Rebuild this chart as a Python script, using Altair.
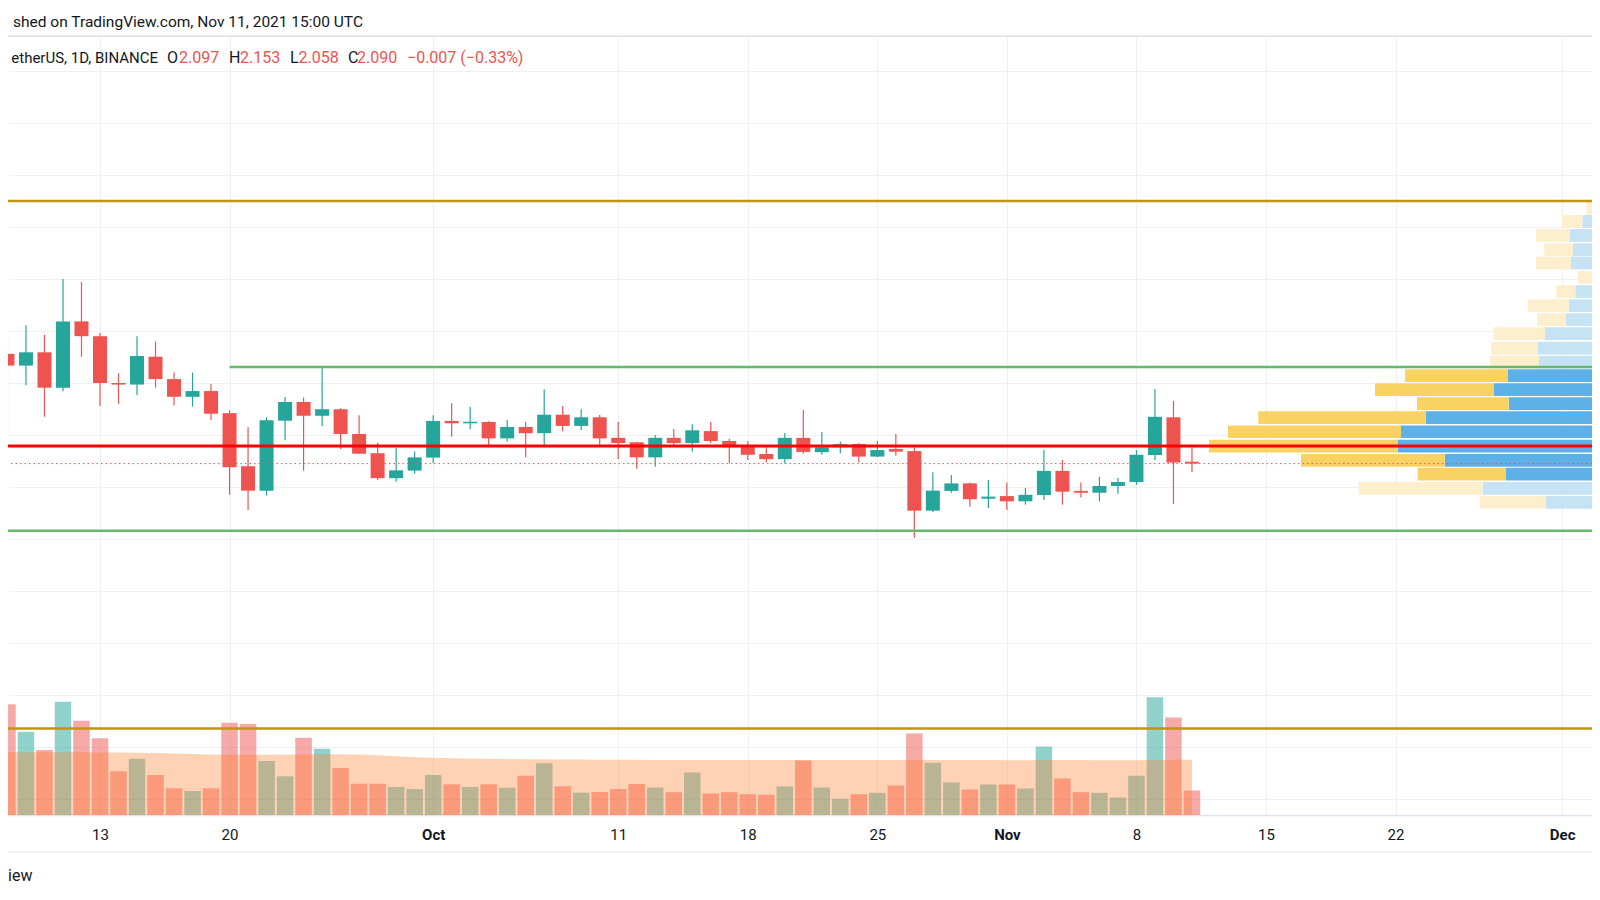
import altair as alt
import numpy as np
import pandas as pd

# ---------------- data ----------------
dates = pd.date_range("2021-09-08", "2021-11-11", freq="D")

opens = [2.512, 2.467, 2.518, 2.382, 2.637, 2.580, 2.400, 2.394, 2.501, 2.415, 2.347, 2.369,
         2.284, 2.080, 1.986, 2.255, 2.327, 2.274, 2.299, 2.204, 2.130, 2.034, 2.063,
         2.113, 2.254, 2.245, 2.250, 2.187, 2.231, 2.207, 2.278, 2.235, 2.268, 2.189, 2.172,
         2.114, 2.189, 2.169, 2.215, 2.177, 2.160, 2.127, 2.107, 2.189, 2.134, 2.153, 2.165,
         2.117, 2.146, 2.138, 1.909, 1.985, 2.014, 1.955,
         1.965, 1.945, 1.969, 2.062, 1.985, 1.978, 2.004, 2.019, 2.123, 2.268, 2.097]
highs = [2.565, 2.622, 2.585, 2.800, 2.789, 2.593, 2.437, 2.580, 2.560, 2.441, 2.440, 2.396,
         2.295, 2.230, 2.268, 2.346, 2.344, 2.459, 2.303, 2.276, 2.170, 2.150, 2.137,
         2.276, 2.322, 2.309, 2.253, 2.258, 2.250, 2.376, 2.312, 2.299, 2.277, 2.250, 2.174,
         2.200, 2.223, 2.241, 2.250, 2.186, 2.177, 2.155, 2.208, 2.296, 2.212, 2.174, 2.169,
         2.177, 2.204, 2.153, 2.057, 2.046, 2.017, 2.027,
         2.017, 1.996, 2.142, 2.104, 2.017, 2.039, 2.035, 2.142, 2.377, 2.331, 2.153]
lows = [2.203, 2.391, 2.270, 2.368, 2.501, 2.312, 2.320, 2.354, 2.382, 2.313, 2.309, 2.258,
        1.970, 1.912, 1.967, 2.180, 2.063, 2.235, 2.146, 2.128, 2.027, 2.020, 2.051,
        2.091, 2.193, 2.222, 2.153, 2.174, 2.113, 2.153, 2.213, 2.218, 2.160, 2.107, 2.070,
        2.078, 2.158, 2.136, 2.169, 2.090, 2.104, 2.094, 2.090, 2.128, 2.124, 2.130, 2.094,
        2.115, 2.120, 1.805, 1.904, 1.978, 1.924, 1.919,
        1.912, 1.932, 1.950, 1.932, 1.960, 1.944, 1.974, 2.008, 2.104, 1.934, 2.058]
closes = [2.467, 2.518, 2.382, 2.637, 2.580, 2.400, 2.394, 2.504, 2.415, 2.347, 2.369, 2.282,
          2.076, 1.986, 2.257, 2.327, 2.274, 2.299, 2.204, 2.128, 2.034, 2.064, 2.114,
          2.254, 2.245, 2.251, 2.187, 2.231, 2.207, 2.278, 2.235, 2.268, 2.187, 2.169, 2.114,
          2.189, 2.169, 2.218, 2.177, 2.153, 2.124, 2.107, 2.189, 2.135, 2.153, 2.165, 2.117,
          2.142, 2.136, 1.909, 1.986, 2.014, 1.953, 1.963,
          1.945, 1.970, 2.062, 1.982, 1.978, 2.004, 2.019, 2.124, 2.270, 2.094, 2.090]
volume_m = [11.07, 8.33, 6.50, 11.33, 9.43, 7.67, 4.37, 5.63, 4.00, 2.67, 2.40, 2.67,
            9.23, 9.10, 5.40, 3.87, 7.73, 6.63, 4.70, 3.13, 3.13, 2.80, 2.60,
            4.00, 3.07, 2.80, 3.07, 2.73, 3.93, 5.17, 2.87, 2.23, 2.30, 2.60, 3.10,
            2.75, 2.28, 4.25, 2.15, 2.28, 2.08, 2.02, 2.85, 5.45, 2.75, 1.62, 2.08,
            2.22, 2.95, 8.15, 5.22, 3.25, 2.55, 3.05,
            3.05, 2.65, 6.85, 3.65, 2.28, 2.22, 1.75, 3.92, 11.78, 9.75, 2.45]
volume_ma_m = [6.28, 6.28, 6.28, 6.28, 6.27, 6.26, 6.24, 6.23, 6.20, 6.14, 6.09, 6.05,
               6.02, 6.02, 6.03, 6.04, 6.06, 6.08, 6.08, 6.05, 5.98, 5.88, 5.78,
               5.72, 5.68, 5.64, 5.62, 5.60, 5.58, 5.57, 5.56, 5.54, 5.53, 5.52, 5.52,
               5.51, 5.51, 5.51, 5.50, 5.50, 5.50, 5.50, 5.50, 5.51, 5.50, 5.49, 5.49,
               5.49, 5.49, 5.51, 5.51, 5.50, 5.49, 5.49,
               5.48, 5.48, 5.50, 5.50, 5.49, 5.48, 5.47, 5.47, 5.50, 5.52, 5.52]

# visible-range volume profile (rows from top to bottom)
profile_top = [3.097, 3.046, 2.992, 2.937, 2.886, 2.831, 2.776, 2.722, 2.668, 2.614, 2.559, 2.505,
               2.453, 2.399, 2.345, 2.291, 2.237, 2.182, 2.127, 2.074, 2.019, 1.965, 1.912, 1.858]
profile_up = [0.60, 1.77, 3.00, 2.70, 2.90, 0.70, 2.47, 3.13, 3.43, 5.50, 6.20, 6.10,
              9.20, 10.60, 9.13, 17.43, 19.90, 20.20, 15.53, 9.40, 11.73, 5.40, 0.07, 0.00]
profile_down = [0.73, 2.03, 3.40, 2.87, 3.50, 1.50, 1.90, 4.07, 2.87, 5.17, 4.67, 4.90,
                10.30, 11.90, 9.17, 16.74, 17.30, 18.90, 14.37, 8.83, 12.40, 6.60, 0.63, 0.50]
profile_value_area = [False] * 12 + [True] * 8 + [False] * 4

level_prices = [3.1, 1.832, 1.071]
level_colors = ["#c09512", "#66b86a", "#c09512"]
resistance_price = 2.4615
resistance_start = "2021-09-20"
pivot_price = 2.158
last_close = 2.090

x_tick_dates = ["2021-09-13", "2021-09-20", "2021-10-01", "2021-10-11", "2021-10-18",
                "2021-10-25", "2021-11-01", "2021-11-08", "2021-11-15", "2021-11-22", "2021-12-01"]
price_grid = [0.8, 1.0, 1.2, 1.4, 1.6, 1.8, 2.0, 2.2, 2.4, 2.6, 2.8, 3.0, 3.2, 3.4, 3.6]

# ---------------- styling / layout ----------------
GREEN = "#26a69a"
RED = "#ef5350"
GREEN_A = "rgba(38,166,154,0.5)"
RED_A = "rgba(239,83,80,0.5)"
GRID = "#eef0f4"
TXT = "#131722"
FONT = "Roboto"

W, H = 1584, 779
DAY = 86_400_000


def ms(s):
    return int(pd.Timestamp(s).value // 1_000_000)


T13 = ms("2021-09-13")
PX_DAY = 18.508
X_LEFT = T13 + (8 - 100) / PX_DAY * DAY
X_RIGHT = T13 + (1592 - 100) / PX_DAY * DAY
Y_TOP = 2.2 + (435 - 36) / 260
Y_BOT = 2.2 - (815 - 435) / 260

xscale = alt.Scale(domain=[X_LEFT, X_RIGHT], nice=False, zero=False, padding=0)
yscale = alt.Scale(domain=[Y_BOT, Y_TOP], nice=False, zero=False, padding=0)
vscale = alt.Scale(domain=[0, H / 10], nice=False, zero=False, padding=0)
pscale = alt.Scale(domain=[0.8, (W + 8) / 10], reverse=True, nice=False, zero=False, padding=0)

df = pd.DataFrame({
    "t": [ms(d) for d in dates],
    "open": opens, "high": highs, "low": lows, "close": closes,
    "vol": volume_m, "ma": volume_ma_m,
})
up = df["close"] >= df["open"]
df["ccolor"] = np.where(up, GREEN, RED)
df["vcolor"] = np.where(up, GREEN_A, RED_A)

ROW_H = 0.049
prof_rows = []
for top, u, d, va in zip(profile_top, profile_up, profile_down, profile_value_area):
    prof_rows.append({"top": top, "bot": top - ROW_H, "x0": 0.0, "x1": u,
                      "c": "#5eb0e8" if va else "#c6e2f5"})
    prof_rows.append({"top": top, "bot": top - ROW_H, "x0": u, "x1": u + d,
                      "c": "#fad264" if va else "#fdefcd"})
prof = pd.DataFrame(prof_rows)

xaxis = alt.Axis(
    values=[ms(d) for d in x_tick_dates],
    labelExpr="utcdate(datum.value) == 1 ? utcFormat(datum.value, '%b') : utcFormat(datum.value, '%-d')",
    labelFontWeight={"condition": {"test": "utcdate(datum.value) == 1", "value": "bold"}, "value": "normal"},
    grid=True, gridColor=GRID, gridWidth=1, labels=True,
    domain=True, domainColor="#e0e3eb", domainWidth=1.5,
    ticks=False, tickSize=0, labelPadding=19, labelBaseline="middle",
    labelFontSize=15, labelColor=TXT, labelFont=FONT, labelFlush=False,
    labelOverlap=False, title=None,
)
yaxis = alt.Axis(values=price_grid, grid=True, gridColor=GRID, gridWidth=1,
                 labels=False, ticks=False, domain=False, title=None, orient="right")

X = alt.X("t:Q", scale=xscale, axis=None)
one = pd.DataFrame({"k": [0]})

# white strip hiding the hairline at the left edge of the plot
edge_mask = alt.Chart(one).mark_rule(color="white", strokeWidth=2).encode(
    x=alt.value(0.5), y=alt.value(1), y2=alt.value(H - 1))

vol_bars = alt.Chart(df).mark_bar(size=16.5).encode(
    x=alt.X("t:Q", scale=xscale, axis=xaxis),
    y=alt.Y("vol:Q", scale=vscale, axis=None),
    y2=alt.datum(0),
    color=alt.Color("vcolor:N", scale=None),
)
ma_area = alt.Chart(df).mark_area(color="#ff7f2a", opacity=0.35).encode(
    x=X, y=alt.Y("ma:Q", scale=vscale, axis=None),
)
wicks = alt.Chart(df).mark_rule(strokeWidth=1.2).encode(
    x=X, y=alt.Y("low:Q", scale=yscale, axis=yaxis), y2="high:Q",
    color=alt.Color("ccolor:N", scale=None),
)
bodies = alt.Chart(df).mark_bar(size=14).encode(
    x=X, y=alt.Y("open:Q", scale=yscale, axis=None), y2="close:Q",
    color=alt.Color("ccolor:N", scale=None),
)
profile = alt.Chart(prof).mark_rect().encode(
    x=alt.X("x0:Q", scale=pscale, axis=None), x2="x1:Q",
    y=alt.Y("top:Q", scale=yscale, axis=None), y2="bot:Q",
    color=alt.Color("c:N", scale=None),
)

lv = pd.DataFrame({"price": level_prices, "c": level_colors})
levels = alt.Chart(lv).mark_rule(strokeWidth=2.5).encode(
    y=alt.Y("price:Q", scale=yscale, axis=None), color=alt.Color("c:N", scale=None))

res = pd.DataFrame({"price": [resistance_price], "t0": [ms(resistance_start)], "t1": [X_RIGHT + DAY]})
resistance = alt.Chart(res).mark_rule(strokeWidth=2.5, color="#66b86a").encode(
    x=alt.X("t0:Q", scale=xscale, axis=None), x2="t1:Q",
    y=alt.Y("price:Q", scale=yscale, axis=None))

piv = pd.DataFrame({"price": [pivot_price]})
pivot = alt.Chart(piv).mark_rule(strokeWidth=3, color="#ff0000").encode(
    y=alt.Y("price:Q", scale=yscale, axis=None))

lc = pd.DataFrame({"price": [last_close]})
last_line = alt.Chart(lc).mark_rule(strokeWidth=1, color=RED, strokeDash=[1.5, 3]).encode(
    y=alt.Y("price:Q", scale=yscale, axis=None))

frame_top = alt.Chart(one).mark_rule(color="#e0e3eb", strokeWidth=1).encode(y=alt.value(0))
frame_bottom = alt.Chart(one).mark_rule(color="#e0e3eb", strokeWidth=1).encode(y=alt.value(816))


def label(text, x, y, color=TXT, align="left", size=16, weight="normal"):
    return alt.Chart(one).mark_text(
        align=align, baseline="middle", font=FONT, fontSize=size, color=color, fontWeight=weight
    ).encode(x=alt.value(x), y=alt.value(y), text=alt.value(text))


texts = [
    label("shed on TradingView.com, Nov 11, 2021 15:00 UTC", 355, -14.5, align="right", size=15.5),
    label("etherUS, 1D, BINANCE", 150, 22, align="right", size=15),
    label("O", 159, 22), label("2.097", 171, 22, RED),
    label("H", 221, 22), label("2.153", 232, 22, RED),
    label("L", 282, 22), label("2.058", 290.5, 22, RED),
    label("C", 340, 22), label("2.090", 349, 22, RED),
    label("\u22120.007 (\u22120.33%)", 399, 22, RED),
    label("iew", 0, 840, size=16),
]

chart = alt.layer(
    edge_mask, vol_bars, ma_area, wicks, bodies, profile,
    levels, resistance, pivot, last_line, frame_top, frame_bottom, *texts,
).resolve_scale(x="independent", y="independent").properties(
    width=W, height=H,
    padding={"left": 0, "top": 28, "right": 0, "bottom": 77},
    autosize=alt.AutoSizeParams(type="none"),
).configure_view(stroke=None).configure_axis(
    domain=False, grid=False, labels=False, ticks=False
).configure(background="white")

chart.save("out.html", embed_options={"renderer": "svg", "actions": False})
